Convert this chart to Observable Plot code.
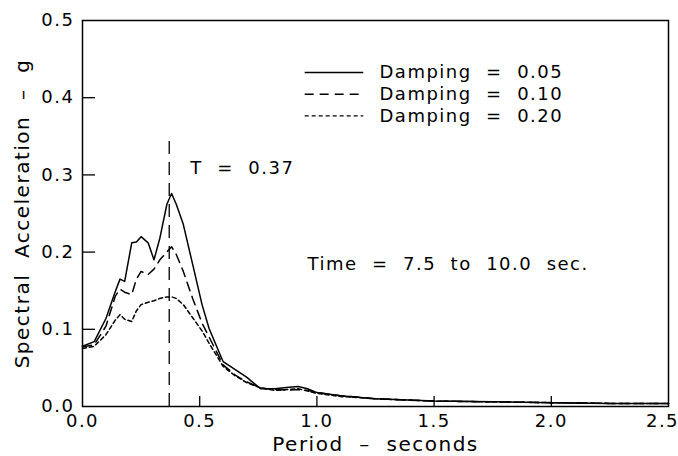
<!DOCTYPE html>
<html><head><meta charset="utf-8">
<script src="https://cdn.jsdelivr.net/npm/d3@7"></script>
<script src="https://cdn.jsdelivr.net/npm/@observablehq/plot@0.6"></script>
<style>
body{margin:0;background:#fff;}
svg text{white-space:pre;letter-spacing:1.5px;}
g[aria-label="time-label"] text{letter-spacing:1px;}
g[aria-label="legend-label"] text{letter-spacing:1.9px;}
g[aria-label="y-title"] text{letter-spacing:2.6px;}
g[aria-label="x-title"] text{letter-spacing:1.6px;}
</style>
</head><body><div id="chart"></div>
<script>
const period = [0.0, 0.05, 0.1, 0.14, 0.16, 0.18, 0.21, 0.23, 0.25, 0.28, 0.305, 0.33, 0.36, 0.38, 0.40, 0.43, 0.47, 0.51, 0.54, 0.6, 0.65, 0.7, 0.76, 0.82, 0.88, 0.92, 0.96, 1.0, 1.1, 1.25, 1.5, 1.75, 2.0, 2.25, 2.5];
const damping005 = [0.078, 0.084, 0.114, 0.149, 0.165, 0.162, 0.212, 0.213, 0.220, 0.212, 0.190, 0.218, 0.262, 0.276, 0.262, 0.236, 0.184, 0.132, 0.101, 0.058, 0.048, 0.038, 0.023, 0.023, 0.025, 0.026, 0.023, 0.018, 0.014, 0.010, 0.007, 0.006, 0.005, 0.004, 0.004];
const damping010 = [0.077, 0.080, 0.104, 0.143, 0.152, 0.148, 0.145, 0.165, 0.175, 0.171, 0.178, 0.190, 0.200, 0.207, 0.197, 0.175, 0.140, 0.108, 0.090, 0.054, 0.041, 0.032, 0.024, 0.022, 0.021, 0.022, 0.021, 0.018, 0.014, 0.010, 0.007, 0.006, 0.005, 0.004, 0.004];
const damping020 = [0.075, 0.078, 0.093, 0.112, 0.119, 0.113, 0.110, 0.124, 0.132, 0.135, 0.137, 0.140, 0.142, 0.142, 0.140, 0.132, 0.115, 0.098, 0.082, 0.052, 0.040, 0.031, 0.024, 0.021, 0.022, 0.023, 0.020, 0.017, 0.013, 0.010, 0.007, 0.006, 0.005, 0.004, 0.004];
const dampingLabels = ["Damping\u00a0\u00a0=\u00a0\u00a00.05", "Damping\u00a0\u00a0=\u00a0\u00a00.10", "Damping\u00a0\u00a0=\u00a0\u00a00.20"];
const xTicks = [0.0, 0.5, 1.0, 1.5, 2.0, 2.5];
const yTicks = [0.0, 0.1, 0.2, 0.3, 0.4, 0.5];
const peakPeriod = 0.37;
const peakLabel = "T\u00a0\u00a0=\u00a0\u00a00.37";
const timeLabel = "Time\u00a0\u00a0=\u00a0\u00a07.5\u00a0\u00a0to\u00a0\u00a010.0\u00a0\u00a0sec.";
const xLabel = "Period\u00a0\u00a0\u2013\u00a0\u00a0seconds";
const yLabel = "Spectral\u00a0\u00a0Acceleration\u00a0\u00a0\u2013\u00a0\u00a0g";

const dashes = [null, "9,6", "4,3"];
const seriesValues = [damping005, damping010, damping020];
const rows = seriesValues.flatMap((vals, s) => period.map((p, i) => ({period: p, sa: vals[i], s})));
const legendRows = dampingLabels.map((label, i) => ({label, i, y: [0.4326, 0.4045, 0.3765][i]}));

const W = 678, H = 456, mL = 82, mR = 10, mT = 20, mB = 50;
const innerW = W - mL - mR, innerH = H - mT - mB;
const font = "'DejaVu Sans', sans-serif";
const fmt = d3.format(".1f");

const marks = [
  Plot.frame({stroke: "black", strokeWidth: 1.5}),
  Plot.axisX(xTicks.slice(0, -1), {tickSize: 0, tickPadding: 8, tickFormat: fmt, fontSize: 18, label: null}),
  Plot.axisX(xTicks.slice(-1), {tickSize: 0, tickPadding: 8, tickFormat: fmt, fontSize: 18, dx: -6, label: null}),
  Plot.axisY({ticks: yTicks, tickSize: 0, tickPadding: 8, tickFormat: fmt, fontSize: 18, label: null}),
  Plot.text([xLabel], {frameAnchor: "bottom", textAnchor: "middle", lineAnchor: "bottom", dy: 44, text: d => d, fontSize: 20, ariaLabel: "x-title"}),
  Plot.text([yLabel], {frameAnchor: "left", textAnchor: "middle", lineAnchor: "middle", dx: -60, rotate: -90, text: d => d, fontSize: 20, ariaLabel: "y-title"}),
  Plot.tickY(yTicks.slice(1, -1), {y: d => d, stroke: "black", strokeWidth: 1.3, insetRight: innerW - 13}),
  Plot.tickX(xTicks.slice(1, -1), {x: d => d, stroke: "black", strokeWidth: 1.3, insetTop: innerH - 10}),
  Plot.ruleX([peakPeriod], {x: d => d, y1: 0, y2: 0.348, stroke: "black", strokeWidth: 1.3, strokeDasharray: "13,8"}),
  ...seriesValues.map((_, s) => Plot.line(rows.filter(d => d.s === s), {
    x: "period", y: "sa", stroke: "black", strokeWidth: 1.5, strokeDasharray: dashes[s], curve: "linear"
  })),
  ...legendRows.map(r => Plot.ruleY([r], {y: "y", x1: 0.95, x2: 1.2, stroke: "black", strokeWidth: 1.4, strokeDasharray: dashes[r.i]})),
  Plot.text(legendRows, {x: 1.267, y: "y", text: "label", textAnchor: "start", fontSize: 18, ariaLabel: "legend-label"}),
  Plot.text([peakLabel], {x: 0.46, y: 0.308, text: d => d, textAnchor: "start", fontSize: 18}),
  Plot.text([timeLabel], {x: 0.96, y: 0.184, text: d => d, textAnchor: "start", fontSize: 18, ariaLabel: "time-label"})
];

const chart = Plot.plot({
  width: W, height: H,
  marginLeft: mL, marginRight: mR, marginTop: mT, marginBottom: mB,
  x: {domain: [0, 2.5]},
  y: {domain: [0, 0.5]},
  style: {fontFamily: font, fontSize: "18px", color: "black", background: "white", overflow: "visible"},
  marks
});
document.getElementById("chart").appendChild(chart);
</script>
</body></html>
